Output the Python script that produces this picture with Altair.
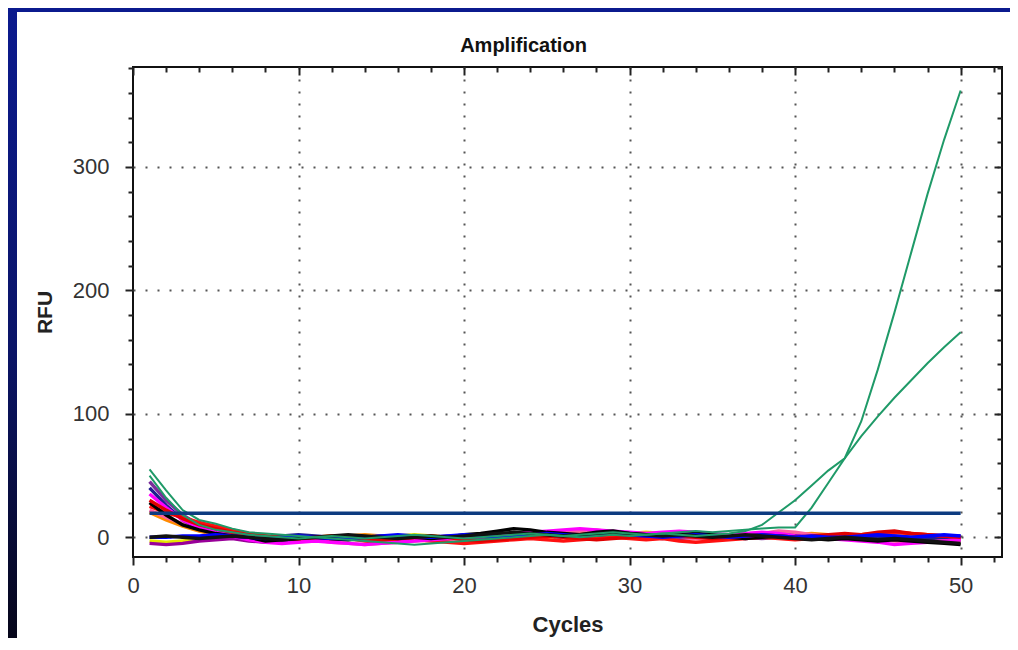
import altair as alt
import pandas as pd

# ---------------- data ----------------
cycles = list(range(1, 51))

series_names = [
    "s01_yellow", "s02_orange", "s03_plum", "s04_pink", "s05_purple",
    "s06_navy", "s07_red2", "s08_magenta", "s09_black", "s10_red",
    "s11_blue", "s12_black2", "s13_greenB", "s14_greenA",
]
series_colors = [
    "#e6e600", "#ff8c00", "#990099", "#ff5fa0", "#7b2d9b",
    "#1f1f8f", "#ff1010", "#ff00ff", "#000000", "#e00000",
    "#0000ff", "#111111", "#1f9a68", "#1f9a68",
]
green_names = ["s13_greenB", "s14_greenA"]

s_yellow = [-3, -4, -3, -2, -1, 0, -2, -3, -2, -1, 0, 1, 0, -1, 0, 1, 2, 1, 0, -1,
            0, 1, 2, 1, 0, 1, 2, 3, 2, 3, 4, 3, 2, 1, 0, 1, 2, 1, 0, -1,
            0, 1, 0, -1, -2, -1, 0, 1, 0, -1]
s_orange = [20, 14, 9, 5, 2, 0, -1, 0, 1, 0, -1, 0, 1, 2, 1, 0, 1, 0, -1, 0,
            1, 0, 1, 2, 1, 2, 3, 2, 1, 2, 3, 2, 1, 0, 1, 2, 1, 0, 1, 2,
            3, 2, 1, 2, 3, 4, 3, 2, 1, 0]
s_plum = [-5, -6, -5, -3, -2, -1, -3, -4, -3, -2, -1, 0, -1, -2, -1, 0, 1, 0, -1, 0,
          1, 2, 1, 0, 1, 2, 1, 2, 3, 2, 1, 0, -1, 0, 1, 0, -1, 0, 1, 2,
          1, 0, -1, -2, -1, 0, -1, -2, -3, -2]
s_pink = [22, 16, 11, 7, 4, 2, 0, -2, -4, -3, -2, -4, -5, -6, -5, -4, -3, -2, -3, -2,
          -1, 0, 1, 2, 3, 4, 5, 6, 4, 3, 2, 1, 0, -1, 0, 1, 2, 3, 5, 4,
          2, 1, 0, -1, -2, -3, -4, -3, -2, -4]
s_purple = [45, 30, 18, 10, 5, 2, 0, -2, -3, -2, -1, 0, 1, 0, -1, -2, -1, 0, 1, 0,
            -1, 0, 1, 2, 1, 0, 1, 3, 2, 1, 0, -1, 0, 1, 2, 1, 0, -1, 0, 1,
            0, -1, 0, 1, 0, -1, -2, -1, 0, -1]
s_navy = [40, 26, 14, 7, 3, 1, -1, 0, 1, 2, 1, 0, -1, 0, 1, 0, -1, -2, -1, 0,
          1, 0, 2, 3, 2, 1, 0, 1, 2, 1, 0, 1, 2, 3, 2, 1, 2, 3, 2, 1,
          0, 1, 2, 1, 0, 1, 0, -1, 0, 1]
s_red2 = [25, 20, 16, 12, 9, 6, 3, 1, -1, -2, -3, -2, -1, -3, -4, -3, -2, -3, -4, -5,
          -4, -3, -2, -1, -2, -3, -2, -1, 0, -1, -2, -1, -3, -4, -3, -2, -1, 0, -1, -2,
          -1, 0, 1, 2, 3, 4, 3, 2, 1, 0]
s_magenta = [35, 24, 14, 8, 4, 1, -2, -4, -5, -4, -3, -4, -5, -6, -5, -4, -3, -2, -1, 0,
             1, 2, 3, 4, 5, 6, 7, 6, 5, 4, 3, 4, 5, 4, 3, 2, 3, 4, 3, 1,
             0, -1, -2, -3, -4, -6, -5, -4, -3, -2]
s_black = [28, 18, 10, 6, 3, 1, 0, -3, -2, -1, 0, -1, -2, -1, 0, 1, 0, -1, 0, 2,
           3, 5, 7, 6, 4, 3, 2, 4, 5, 3, 2, 1, 2, 3, 2, 0, -1, 0, 1, 0,
           -1, -2, -1, -2, -3, -2, -3, -4, -5, -6]
s_red = [30, 22, 15, 10, 7, 4, 2, 1, 0, -1, 0, 1, 0, -1, -2, -1, 0, 1, 0, -2,
         -3, -2, -1, 0, 1, 0, -1, -2, -1, 0, 1, 2, 1, 0, -1, 0, 1, 2, 1, 0,
         1, 2, 3, 2, 4, 5, 3, 2, 1, 0]
s_blue = [0, 0, 1, 1, 2, 1, 0, -1, 0, 1, 0, -1, -1, 0, 1, 2, 1, 0, 1, 2,
          1, 0, 1, 2, 3, 2, 1, 2, 3, 2, 1, 0, 1, 2, 1, 0, 1, 2, 1, 0,
          1, 0, 0, 1, 2, 1, 0, 1, 2, 1]
s_black2 = [0, 1, 0, -1, 0, 1, 0, -1, -2, -1, 0, 1, 2, 1, 0, -1, 0, 1, 0, 1,
            2, 3, 4, 3, 2, 1, 2, 3, 4, 3, 2, 1, 2, 1, 0, 1, 2, 1, 0, -1,
            -2, -1, 0, -1, -2, -1, -2, -3, -4, -5]
s_greenB = [55, 38, 22, 14, 11, 7, 4, 3, 2, 1, 0, -1, -2, -3, -4, -5, -6, -5, -4, -3,
            -2, -1, 0, 1, 2, 1, 0, 1, 2, 1, 2, 3, 2, 1, 2, 3, 5, 10, 20, 30,
            42, 54, 64, 82, 98, 113, 127, 141, 154, 166]
s_greenA = [50, 32, 18, 10, 6, 4, 2, 1, 0, -1, 0, 1, 0, -1, 0, 1, 2, 1, 0, -1,
            0, 1, 2, 3, 2, 1, 2, 3, 4, 3, 2, 3, 4, 5, 4, 5, 6, 7, 8, 8,
            24, 44, 64, 94, 136, 182, 230, 278, 322, 362]

series_values = [s_yellow, s_orange, s_plum, s_pink, s_purple, s_navy, s_red2,
                 s_magenta, s_black, s_red, s_blue, s_black2, s_greenB, s_greenA]

threshold_value = 19.5
threshold_cycles = [1, 50]

x_tick_values = list(range(0, 53, 2))
y_tick_values = list(range(0, 381, 20))

rows = []
for name, vals in zip(series_names, series_values):
    for c, v in zip(cycles, vals):
        rows.append({"series": name, "cycle": c, "rfu": v})
df = pd.DataFrame(rows)
df_base = df[~df["series"].isin(green_names)]
df_green = df[df["series"].isin(green_names)]
thr = pd.DataFrame({"cycle": threshold_cycles,
                    "rfu": [threshold_value] * len(threshold_cycles)})

# ---------------- layout ----------------
W, H = 869, 490
PL, PT, PR, PB = 125, 59, 8, 81
FONT = "Liberation Sans"

xscale = alt.Scale(domain=[0, 52.5], nice=False, zero=False)
yscale = alt.Scale(domain=[-16, 381], nice=False, zero=False)
cscale = alt.Scale(domain=series_names, range=series_colors)

major_x = "datum.value % 10 === 0"
major_y = "datum.value % 100 === 0"

x_bottom = alt.Axis(
    orient="bottom", values=x_tick_values, title="Cycles",
    labelExpr=f"{major_x} ? datum.label : ''", labelOverlap=False, labelFlush=False,
    labelFont=FONT, labelFontSize=22, labelColor="#333", labelPadding=10,
    tickSize={"condition": {"test": major_x, "value": 8}, "value": 5},
    tickColor="#222", tickWidth=2, domain=False,
    grid=True, gridColor="#555", gridDash=[2, 10], gridWidth=2,
    gridOpacity={"condition": {"test": f"{major_x} && datum.value > 0", "value": 1}, "value": 0},
    titleFont=FONT, titleFontSize=22, titleFontWeight="bold", titleColor="#222",
    titlePadding=18,
)
y_left = alt.Axis(
    orient="left", values=y_tick_values, title="RFU",
    labelExpr=f"{major_y} ? datum.label : ''", labelOverlap=False, labelFlush=False,
    labelFont=FONT, labelFontSize=22, labelColor="#333", labelPadding=16,
    tickSize={"condition": {"test": major_y, "value": 8}, "value": 5},
    tickColor="#222", tickWidth=2, domain=False,
    grid=True, gridColor="#555", gridDash=[2, 10], gridWidth=2,
    gridOpacity={"condition": {"test": major_y, "value": 1}, "value": 0},
    titleFont=FONT, titleFontSize=21, titleFontWeight="bold", titleColor="#222",
    titlePadding=17,
)
x_top = alt.Axis(
    orient="top", values=x_tick_values, title=None, labels=False, domain=False, grid=False,
    tickSize={"expr": f"{major_x} ? -8 : -5"}, tickColor="#222", tickWidth=2,
)
y_right = alt.Axis(
    orient="right", values=y_tick_values, title=None, labels=False, domain=False, grid=False,
    tickSize={"expr": f"{major_y} ? -8 : -5"}, tickColor="#222", tickWidth=2,
)

one = alt.Data(values=[{"k": 1}])

# slide background strips (blue top band, blue->black left band)
top_strip = alt.Chart(one).mark_rect(fill="#0b1a8e").encode(
    x=alt.value(-PL), x2=alt.value(W + PR), y=alt.value(-PT), y2=alt.value(-PT + 4)
)
left_strip = alt.Chart(one).mark_rect(
    fill=alt.LinearGradient(
        gradient="linear",
        stops=[alt.GradientStop(offset=0, color="#0b1a8e"),
               alt.GradientStop(offset=0.55, color="#0a1466"),
               alt.GradientStop(offset=1, color="#06061a")],
        x1=0, x2=0, y1=0, y2=1,
    )
).encode(
    x=alt.value(-PL), x2=alt.value(-PL + 9), y=alt.value(-PT), y2=alt.value(H + PB)
)

base_lines = alt.Chart(df_base).mark_line(strokeWidth=3.4, clip=True).encode(
    x=alt.X("cycle:Q", scale=xscale, axis=x_bottom),
    y=alt.Y("rfu:Q", scale=yscale, axis=y_left),
    color=alt.Color("series:N", scale=cscale, legend=None),
)

green_lines = alt.Chart(df_green).mark_line(strokeWidth=2, clip=True).encode(
    x=alt.X("cycle:Q", scale=xscale, axis=None),
    y=alt.Y("rfu:Q", scale=yscale, axis=None),
    color=alt.Color("series:N", scale=cscale, legend=None),
)

threshold = alt.Chart(thr).mark_line(color="#0d3b80", strokeWidth=3.5).encode(
    x=alt.X("cycle:Q", scale=xscale, axis=x_top),
    y=alt.Y("rfu:Q", scale=yscale, axis=y_right),
)

chart = alt.layer(top_strip, left_strip, base_lines, green_lines, threshold).resolve_axis(
    x="independent", y="independent"
).properties(
    width=W, height=H,
    padding={"left": PL, "top": PT, "right": PR, "bottom": PB},
    autosize=alt.AutoSizeParams(type="none"),
    background="white",
    title=alt.TitleParams("Amplification", font=FONT, fontSize=20, fontWeight="bold",
                          color="#111", anchor="middle", dx=-44, offset=0, dy=48),
).configure_view(stroke="#111", strokeWidth=2)

chart.save("out.html", embed_options={"renderer": "svg", "actions": False})
